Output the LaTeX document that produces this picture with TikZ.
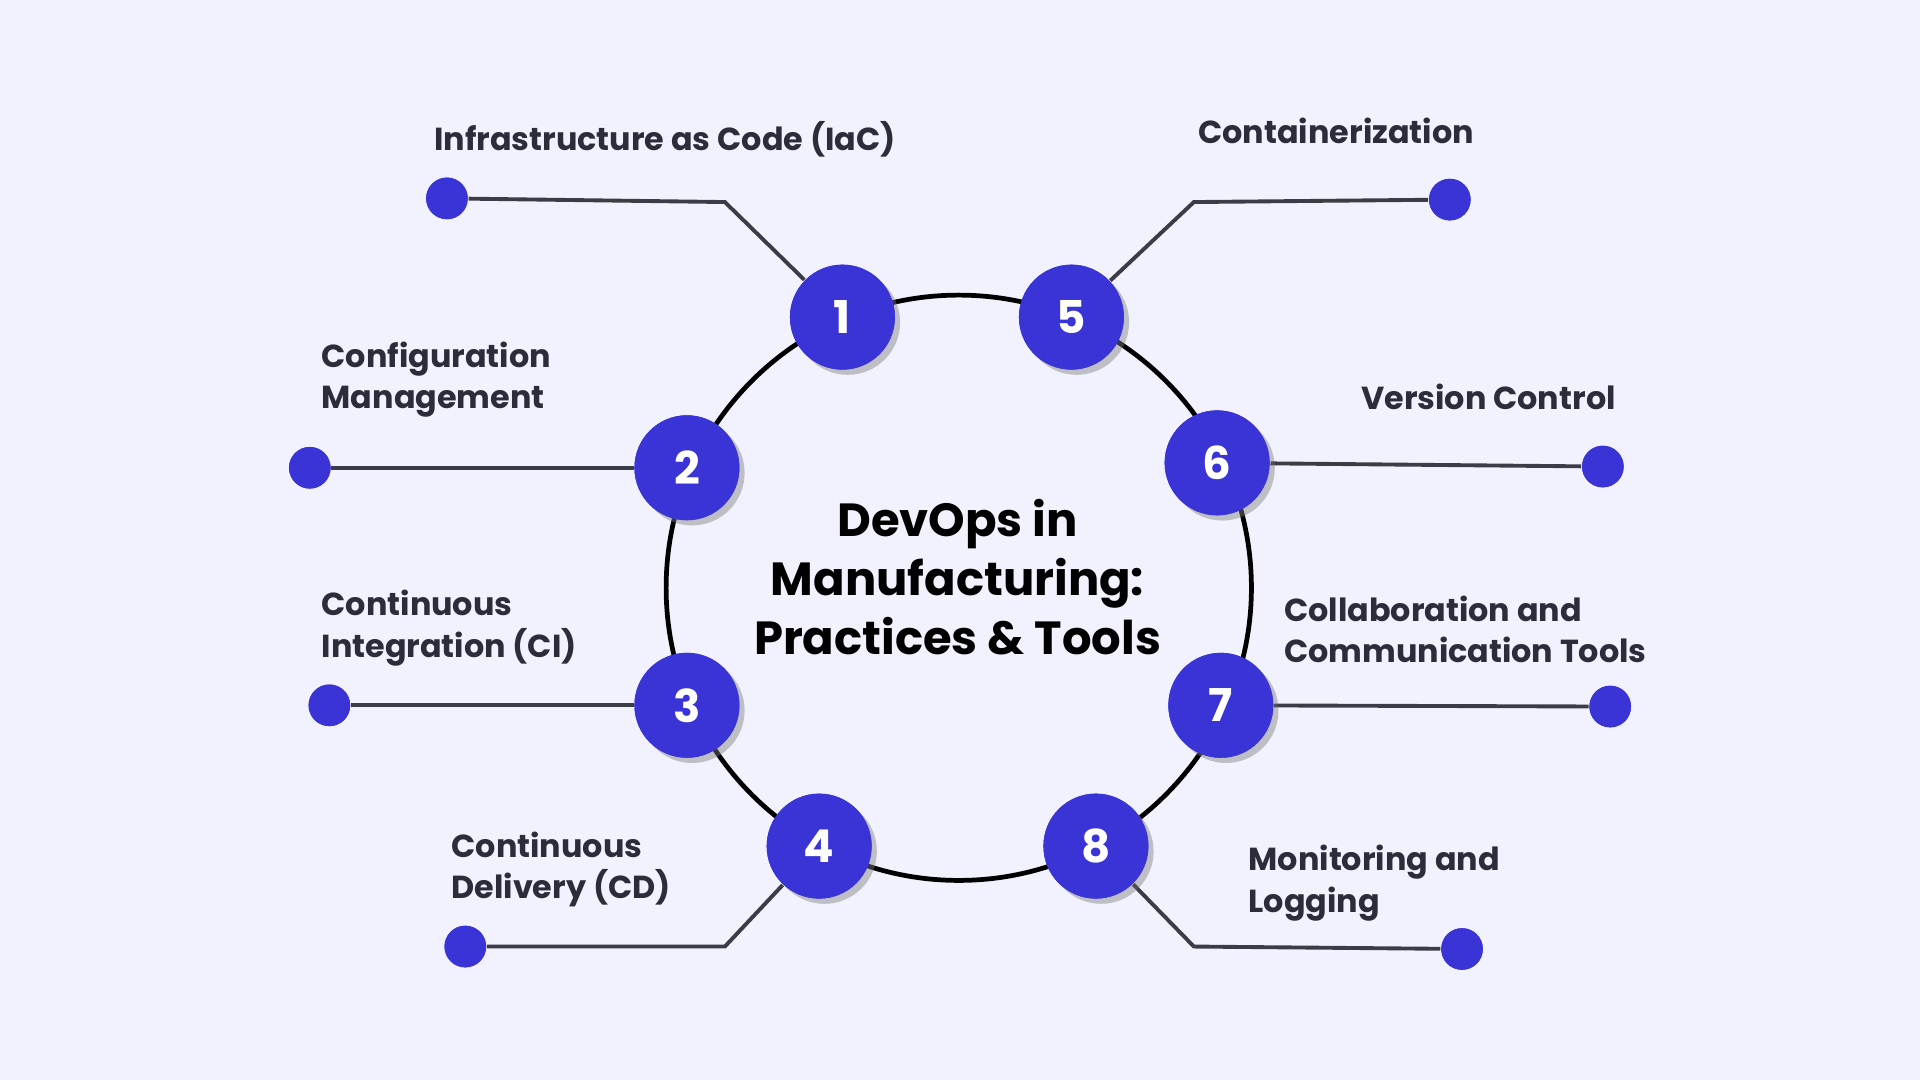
\documentclass[tikz,border=0pt]{standalone}
\usepackage{fontspec}
\setmainfont{Poppins}
\usetikzlibrary{shadows}
\definecolor{bg}{HTML}{F1F2FD}
\definecolor{vio}{HTML}{3A33D6}
\definecolor{ink}{HTML}{2B2D3A}
\definecolor{ln}{HTML}{3C3C44}
\begin{document}
\begin{tikzpicture}[x=0.1mm,y=-0.1mm,
  num/.style={circle,fill=vio,minimum size=86\pgflinewidth,inner sep=0pt,text=white,font=\bfseries\fontsize{10.5}{12}\selectfont,drop shadow={shadow xshift=1.2pt,shadow yshift=-1.2pt,opacity=0.25}},
  dot/.style={circle,fill=vio,minimum size=34\pgflinewidth,inner sep=0pt},
  lbl/.style={anchor=west,align=left,inner sep=0pt,text=ink,font=\bfseries\fontsize{7.4}{9.7}\selectfont},
  conn/.style={draw=ln,line width=0.9pt}]
\useasboundingbox (0,0) rectangle (1568,882);
\fill[bg] (0,0) rectangle (1568,882);
\draw[line width=1.1pt,black] (783,480) circle (239);
\tikzset{num/.append style={minimum size=2.45mm*3.5}, dot/.append style={minimum size=3.4mm}}
\node[num] (c1) at (688,259) {1};
\node[num] (c5) at (875,259) {5};
\node[num] (c2) at (561,382) {2};
\node[num] (c6) at (994,378) {6};
\node[num] (c3) at (561,576) {3};
\node[num] (c7) at (997,576) {7};
\node[num] (c4) at (669,691) {4};
\node[num] (c8) at (895,691) {8};
\node[dot] (d1) at (365,162) {};
\node[dot] (d5) at (1184,163) {};
\node[dot] (d2) at (253,382) {};
\node[dot] (d6) at (1309,381) {};
\node[dot] (d3) at (269,576) {};
\node[dot] (d7) at (1315,577) {};
\node[dot] (d4) at (380,773) {};
\node[dot] (d8) at (1194,775) {};
\coordinate (b1) at (592,165);
\coordinate (b5) at (975,165);
\coordinate (b4) at (592,773);
\coordinate (b8) at (975,773);
\begin{scope}[on background layer/.style={}]
\draw[conn] (d1) -- (b1) -- (c1);
\draw[conn] (d5) -- (b5) -- (c5);
\draw[conn] (d4) -- (b4) -- (c4);
\draw[conn] (d8) -- (b8) -- (c8);
\draw[conn] (d2) -- (c2);
\draw[conn] (d6) -- (c6);
\draw[conn] (d3) -- (c3);
\draw[conn] (d7) -- (c7);
\end{scope}
% redraw circles on top
\node[num] at (c1) {1};
\node[num] at (c5) {5};
\node[num] at (c2) {2};
\node[num] at (c6) {6};
\node[num] at (c3) {3};
\node[num] at (c7) {7};
\node[num] at (c4) {4};
\node[num] at (c8) {8};
\node[dot] at (d1) {};\node[dot] at (d5) {};\node[dot] at (d2) {};\node[dot] at (d6) {};
\node[dot] at (d3) {};\node[dot] at (d7) {};\node[dot] at (d4) {};\node[dot] at (d8) {};
\node[lbl] (l1) at (354,114) {Infrastructure as Code (IaC)};
\node[lbl] (l5) at (978,107) {Containerization};
\node[lbl] (l2) at (262,310) {Configuration\\Management};
\node[lbl] (l6) at (1111,324) {Version Control};
\node[lbl] (l3) at (262,513) {Continuous\\Integration (CI)};
\node[lbl] (l7) at (1048,514) {Collaboration and\\Communication Tools};
\node[lbl] (l4) at (368,710) {Continuous\\Delivery (CD)};
\node[lbl] (l8) at (1019,721) {Monitoring and\\Logging};
\node[align=center,inner sep=0pt,text=black,font=\bfseries\fontsize{10.8}{13.7}\selectfont] (t) at (782,471) {DevOps in\\Manufacturing:\\Practices \& Tools};
\end{tikzpicture}
\end{document}
